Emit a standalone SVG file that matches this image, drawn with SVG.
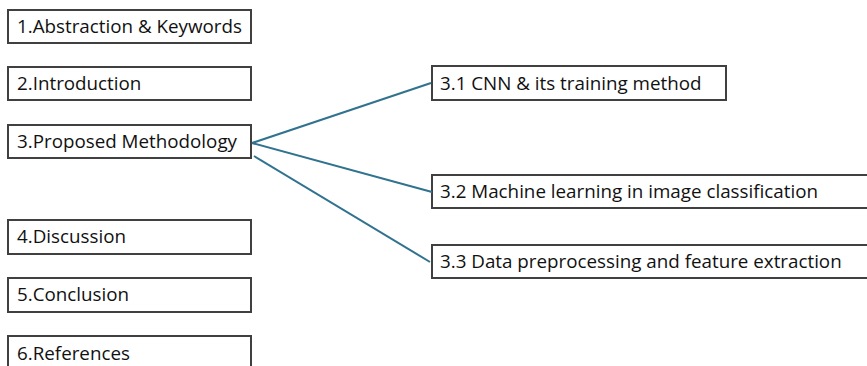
<svg xmlns="http://www.w3.org/2000/svg" width="867" height="366" viewBox="0 0 867 366">
<style>
.box{fill:#ffffff;stroke:#404040;stroke-width:2}
.t{font-family:"Open Sans","Liberation Sans",sans-serif;font-size:18.8px;fill:#111111}
.c{stroke:#31728f;stroke-width:2;fill:none}
</style>
<rect width="867" height="366" fill="#ffffff"/>
<g id="n1"><rect class="box" x="8" y="10" width="243" height="33"/><text class="t" x="17" y="33">1.Abstraction &amp; Keywords</text></g>
<g id="n2"><rect class="box" x="8" y="67" width="243" height="33"/><text class="t" x="17" y="90">2.Introduction</text></g>
<g id="n3"><rect class="box" x="8" y="125" width="243" height="33"/><text class="t" x="17" y="148">3.Proposed Methodology</text></g>
<g id="n4"><rect class="box" x="8" y="220" width="243" height="34"/><text class="t" x="17" y="243">4.Discussion</text></g>
<g id="n5"><rect class="box" x="8" y="278" width="243" height="34"/><text class="t" x="17" y="301">5.Conclusion</text></g>
<g id="n6"><rect class="box" x="8" y="336" width="243" height="40"/><text class="t" x="17" y="360">6.References</text></g>
<g id="n31"><rect class="box" x="432" y="66" width="294" height="34"/><text class="t" x="440" y="90">3.1 CNN &amp; its training method</text></g>
<g id="n32"><rect class="box" x="432" y="175" width="440" height="33"/><text class="t" x="440" y="198">3.2 Machine learning in image classification</text></g>
<g id="n33"><rect class="box" x="432" y="245" width="440" height="33"/><text class="t" x="440" y="268">3.3 Data preprocessing and feature extraction</text></g>
<g id="connectors">
<line class="c" x1="252" y1="143" x2="431" y2="83"/>
<line class="c" x1="252" y1="143" x2="432" y2="192"/>
<line class="c" x1="254" y1="156" x2="430" y2="262"/>
</g>
</svg>
